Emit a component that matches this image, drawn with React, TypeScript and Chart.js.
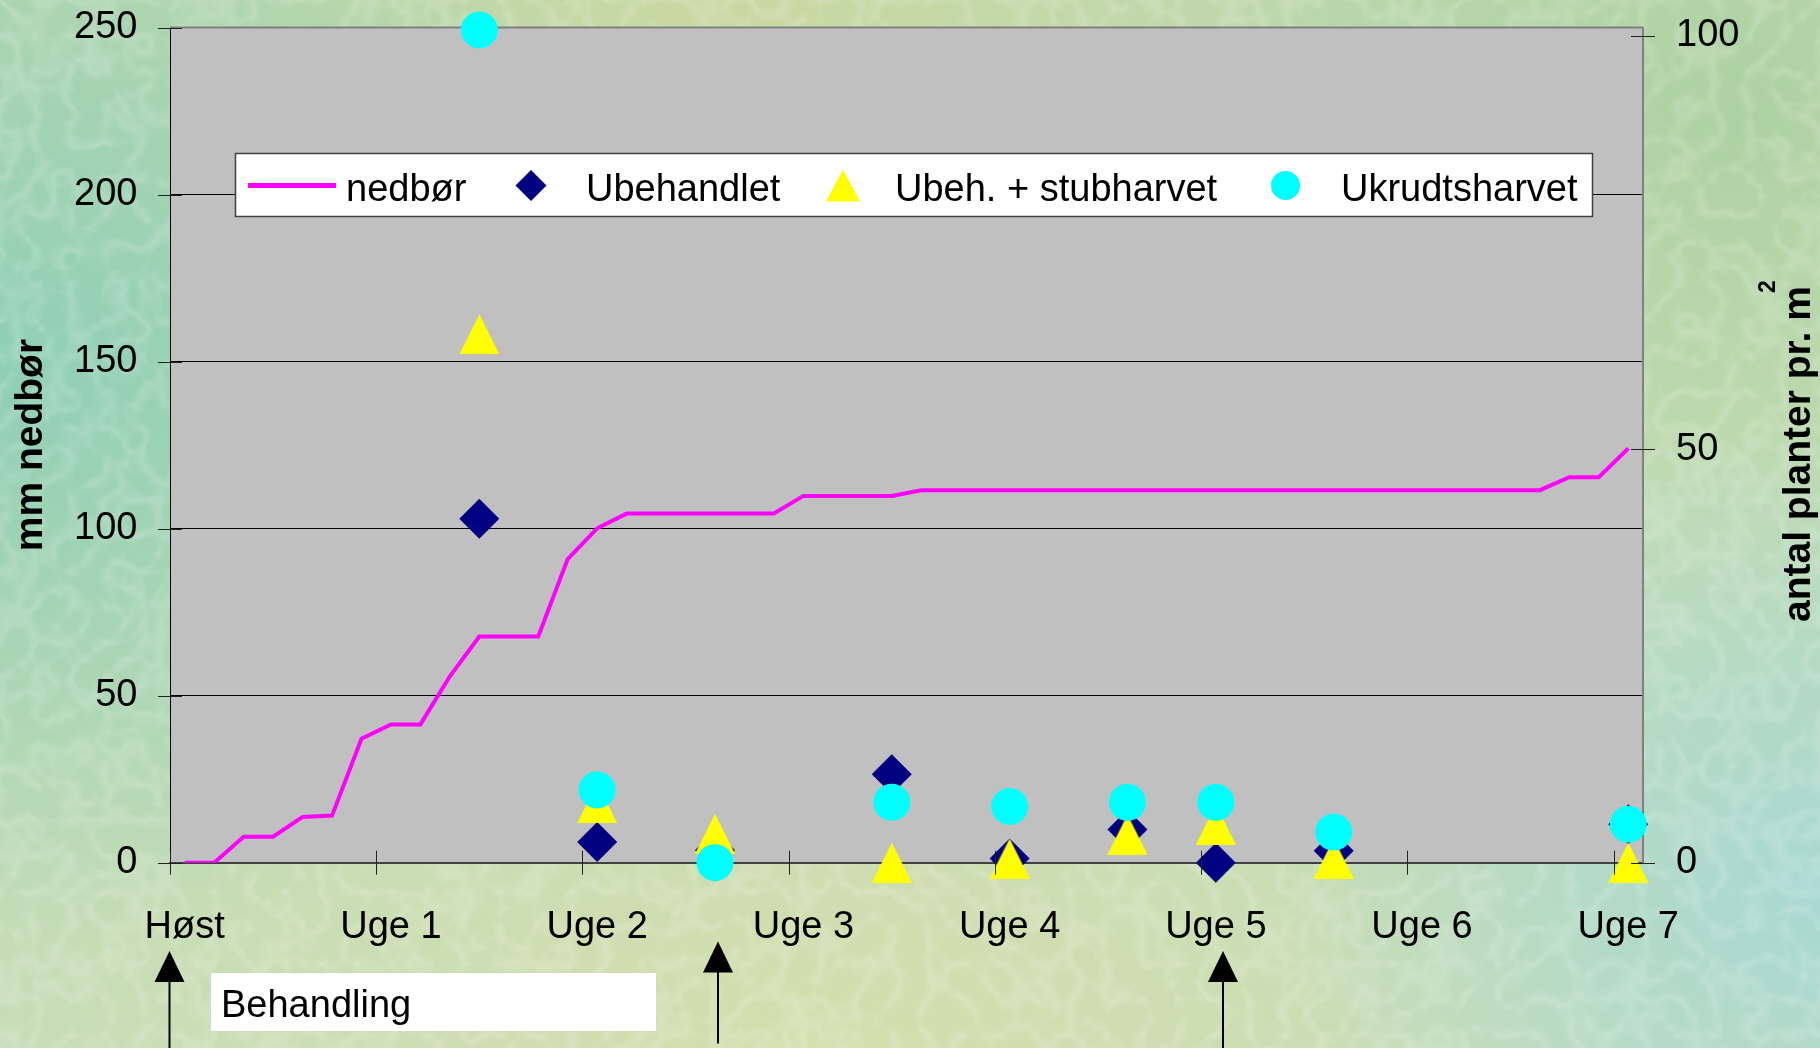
import React, { useEffect, useRef } from "react";
import { Chart, registerables } from "chart.js";

Chart.register(...registerables);

// ---------------- data ----------------
const weekLabels = ["Høst", "Uge 1", "Uge 2", "Uge 3", "Uge 4", "Uge 5", "Uge 6", "Uge 7"];
const dayCategories = [
  "0", "1", "2", "3", "4", "5", "6", "7", "8", "9",
  "10", "11", "12", "13", "14", "15", "16", "17", "18", "19",
  "20", "21", "22", "23", "24", "25", "26", "27", "28", "29",
  "30", "31", "32", "33", "34", "35", "36", "37", "38", "39",
  "40", "41", "42", "43", "44", "45", "46", "47", "48", "49",
];
// cumulative precipitation (mm), one value per day
const nedborValues = [
  0, 0, 7.8, 7.8, 13.7, 14.1, 37.1, 41.4, 41.4, 55.8,
  67.7, 67.7, 67.7, 90.9, 100.1, 104.5, 104.5, 104.5, 104.5, 104.5,
  104.5, 109.8, 109.8, 109.8, 109.8, 111.5, 111.5, 111.5, 111.5, 111.5,
  111.5, 111.5, 111.5, 111.5, 111.5, 111.5, 111.5, 111.5, 111.5, 111.5,
  111.5, 111.5, 111.5, 111.5, 111.5, 111.5, 111.5, 115.4, 115.4, 124,
];
// days on which plants were counted
const countDays = [10, 14, 18, 24, 28, 32, 35, 39, 49];
const ubehandletValues = [41.6, 2.5, 1.5, 10.7, 0.5, 4.0, 0, 1.45, 4.65];
const stubharvetValues = [63.9, 7.2, 3.5, 0, 0.5, 3.4, 4.6, 0.5, 0];
const ukrudtsharvetValues = [100.7, 8.8, 0, 7.3, 6.8, 7.3, 7.3, 3.7, 4.65];

const leftTicks = [0, 50, 100, 150, 200, 250];
const rightTicks = [0, 50, 100];

const seriesNames = ["nedbør", "Ubehandlet", "Ubeh. + stubharvet", "Ukrudtsharvet"];

// ---------------- helpers ----------------
const FONT = '"Liberation Sans", Arial, Helvetica, sans-serif';
const MAGENTA = "#FF00FF";
const NAVY = "#000080";
const YELLOW = "#FFFF00";
const CYAN = "#00FFFF";

function toDaySeries(days: number[], values: number[]) {
  const out: (number | null)[] = dayCategories.map(() => null);
  days.forEach((d, k) => {
    out[d] = values[k];
  });
  return out;
}

function makeTriangle(w: number, h: number, color: string) {
  const c = document.createElement("canvas");
  c.width = w;
  c.height = h;
  const g = c.getContext("2d")!;
  g.fillStyle = color;
  g.beginPath();
  g.moveTo(w / 2, 0);
  g.lineTo(w, h);
  g.lineTo(0, h);
  g.closePath();
  g.fill();
  return c;
}

// ---------------- plugins ----------------
const plotFramePlugin = {
  id: "plotFrame",
  beforeDraw(chart: any) {
    const { ctx, chartArea: a } = chart;
    ctx.save();
    ctx.fillStyle = "#C0C0C0";
    ctx.fillRect(a.left, a.top, a.right - a.left, a.bottom - a.top);
    ctx.restore();
  },
  beforeDatasetsDraw(chart: any) {
    const { ctx, chartArea: a } = chart;
    ctx.save();
    ctx.strokeStyle = "#808080";
    ctx.lineWidth = 2;
    ctx.beginPath();
    ctx.moveTo(a.left, a.top);
    ctx.lineTo(a.right, a.top);
    ctx.stroke();
    ctx.restore();
  },
  afterDatasetsDraw(chart: any) {
    const { ctx, chartArea: a, scales } = chart;
    ctx.save();
    ctx.strokeStyle = "#222";
    ctx.lineWidth = 1;
    const x = scales.x;
    const half = (x.getPixelForValue(1) - x.getPixelForValue(0)) / 2;
    ctx.beginPath();
    for (let i = 0; i < dayCategories.length; i += 7) {
      const px = Math.round(x.getPixelForValue(i) - half) + 0.5;
      ctx.moveTo(px, a.bottom - 12);
      ctx.lineTo(px, a.bottom + 12);
    }
    leftTicks.forEach((v) => {
      const py = Math.round(scales.y.getPixelForValue(v)) + 0.5;
      ctx.moveTo(a.left - 12, py);
      ctx.lineTo(a.left + 12, py);
    });
    rightTicks.forEach((v) => {
      const py = Math.round(scales.y1.getPixelForValue(v)) + 0.5;
      ctx.moveTo(a.right - 12, py);
      ctx.lineTo(a.right + 12, py);
    });
    ctx.stroke();
    ctx.restore();
  },
};

const legendPlugin = {
  id: "customLegend",
  afterDraw(chart: any) {
    const { ctx } = chart;
    const ds = chart.data.datasets;
    ctx.save();
    ctx.fillStyle = "#FFFFFF";
    ctx.fillRect(235, 153, 1358, 64);
    ctx.strokeStyle = "#404040";
    ctx.lineWidth = 1.5;
    ctx.strokeRect(235.5, 153.5, 1357, 63);
    const cy = 185.5;
    ctx.font = `38px ${FONT}`;
    ctx.fillStyle = "#000";
    ctx.textBaseline = "alphabetic";
    ctx.textAlign = "left";
    // line sample
    const lineDs = ds.find((d: any) => d.label === seriesNames[0]);
    ctx.strokeStyle = lineDs.borderColor;
    ctx.lineWidth = 5;
    ctx.beginPath();
    ctx.moveTo(248, cy);
    ctx.lineTo(336, cy);
    ctx.stroke();
    ctx.fillText(seriesNames[0], 346, 201);
    // diamond
    const dDs = ds.find((d: any) => d.label === seriesNames[1]);
    ctx.fillStyle = dDs.pointBackgroundColor;
    ctx.beginPath();
    ctx.moveTo(531, cy - 15.5);
    ctx.lineTo(546.5, cy);
    ctx.lineTo(531, cy + 15.5);
    ctx.lineTo(515.5, cy);
    ctx.closePath();
    ctx.fill();
    ctx.fillStyle = "#000";
    ctx.fillText(seriesNames[1], 586, 201);
    // triangle
    const tDs = ds.find((d: any) => d.label === seriesNames[2]);
    ctx.fillStyle = tDs.pointBackgroundColor;
    ctx.beginPath();
    ctx.moveTo(843, cy - 16);
    ctx.lineTo(860, cy + 16);
    ctx.lineTo(826, cy + 16);
    ctx.closePath();
    ctx.fill();
    ctx.fillStyle = "#000";
    ctx.fillText(seriesNames[2], 895, 201);
    // circle
    const cDs = ds.find((d: any) => d.label === seriesNames[3]);
    ctx.fillStyle = cDs.pointBackgroundColor;
    ctx.beginPath();
    ctx.ellipse(1285.5, cy, 14.5, 14.5, 0, 0, Math.PI * 2);
    ctx.fill();
    ctx.fillStyle = "#000";
    ctx.fillText(seriesNames[3], 1341, 201);
    ctx.restore();
  },
};

const annotationPlugin = {
  id: "annotations",
  afterDraw(chart: any) {
    const { ctx } = chart;
    ctx.save();
    // right axis title, reading upwards
    ctx.fillStyle = "#000";
    ctx.translate(1810, 622);
    ctx.rotate(-Math.PI / 2);
    ctx.font = `bold 39px ${FONT}`;
    ctx.textAlign = "left";
    ctx.textBaseline = "alphabetic";
    const main = "antal planter pr. m";
    ctx.fillText(main, 0, 0);
    const w = ctx.measureText(main).width;
    ctx.font = `bold 23px ${FONT}`;
    ctx.fillText("2", w - 7, -35);
    ctx.restore();

    ctx.save();
    // Behandling box
    ctx.fillStyle = "#FFFFFF";
    ctx.fillRect(211, 973, 445, 58);
    ctx.fillStyle = "#000";
    ctx.font = `38px ${FONT}`;
    ctx.textAlign = "left";
    ctx.textBaseline = "alphabetic";
    ctx.fillText("Behandling", 221, 1016.5);
    // arrows
    const arrows = [
      { x: 169.5, tip: 951, end: 1048 },
      { x: 718, tip: 941.5, end: 1043.5 },
      { x: 1223, tip: 951, end: 1048 },
    ];
    arrows.forEach((ar) => {
      ctx.strokeStyle = "#000";
      ctx.lineWidth = 2;
      ctx.beginPath();
      ctx.moveTo(ar.x, ar.tip + 20);
      ctx.lineTo(ar.x, ar.end);
      ctx.stroke();
      ctx.beginPath();
      ctx.moveTo(ar.x, ar.tip);
      ctx.lineTo(ar.x + 15, ar.tip + 31);
      ctx.lineTo(ar.x - 15, ar.tip + 31);
      ctx.closePath();
      ctx.fill();
    });
    ctx.restore();
  },
};

// ---------------- component ----------------
export default function App() {
  const canvasRef = useRef<HTMLCanvasElement | null>(null);

  useEffect(() => {
    const canvas = canvasRef.current;
    if (!canvas) return;
    const triangle = makeTriangle(40, 40, YELLOW);

    const chart = new Chart(canvas, {
      type: "line",
      data: {
        labels: dayCategories,
        datasets: [
          {
            label: seriesNames[3],
            data: toDaySeries(countDays, ukrudtsharvetValues),
            yAxisID: "y1",
            showLine: false,
            pointStyle: "circle",
            pointRadius: 18.5,
            pointBackgroundColor: CYAN,
            pointBorderWidth: 0,
            borderColor: CYAN,
            backgroundColor: CYAN,
            clip: false,
            order: 1,
          },
          {
            label: seriesNames[2],
            data: toDaySeries(countDays, stubharvetValues),
            yAxisID: "y1",
            showLine: false,
            pointStyle: triangle,
            pointRadius: 20,
            pointBackgroundColor: YELLOW,
            pointBorderWidth: 0,
            borderColor: YELLOW,
            backgroundColor: YELLOW,
            clip: false,
            order: 2,
          },
          {
            label: seriesNames[1],
            data: toDaySeries(countDays, ubehandletValues),
            yAxisID: "y1",
            showLine: false,
            pointStyle: "rectRot",
            pointRadius: 20,
            pointBackgroundColor: NAVY,
            pointBorderWidth: 0,
            borderColor: NAVY,
            backgroundColor: NAVY,
            clip: false,
            order: 3,
          },
          {
            label: seriesNames[0],
            data: nedborValues,
            yAxisID: "y",
            borderColor: MAGENTA,
            backgroundColor: MAGENTA,
            borderWidth: 4,
            pointRadius: 0,
            tension: 0,
            fill: false,
            order: 4,
          },
        ],
      },
      options: {
        animation: false,
        responsive: false,
        maintainAspectRatio: false,
        devicePixelRatio: 1,
        layout: { padding: { top: 27.5, left: 0, right: 0, bottom: 0 } },
        plugins: {
          legend: { display: false },
          tooltip: { enabled: false },
        },
        scales: {
          x: {
            type: "category",
            offset: true,
            grid: { display: false, offset: true, drawTicks: false },
            border: { display: true, color: "#404040", width: 2 },
            ticks: {
              autoSkip: false,
              maxRotation: 0,
              minRotation: 0,
              padding: 42,
              color: "#000",
              font: { family: FONT, size: 38 },
              callback: (_v: any, i: number) => (i % 7 === 0 ? weekLabels[i / 7] : ""),
            },
            afterFit: (s: any) => {
              s.height = 1048 - 862.7;
              s.paddingLeft = 0;
              s.paddingRight = 0;
            },
          },
          y: {
            type: "linear",
            position: "left",
            min: 0,
            max: 250,
            afterBuildTicks: (s: any) => {
              s.ticks = leftTicks.map((v) => ({ value: v }));
            },
            grid: {
              drawTicks: false,
              lineWidth: 1,
              color: (c: any) =>
                c.tick && (c.tick.value === 0 || c.tick.value === 250) ? "rgba(0,0,0,0)" : "#000",
            },
            border: { display: true, color: "#000", width: 1 },
            ticks: {
              padding: 32.5,
              color: "#000",
              font: { family: FONT, size: 38 },
            },
            title: {
              display: true,
              text: "mm nedbør",
              color: "#000",
              font: { family: FONT, size: 39, weight: "bold" },
              padding: { top: 8, bottom: 0 },
            },
            afterFit: (s: any) => {
              s.width = 170;
              s.paddingTop = 0;
              s.paddingBottom = 0;
            },
          },
          y1: {
            type: "linear",
            position: "right",
            min: 0,
            max: 101,
            afterBuildTicks: (s: any) => {
              s.ticks = rightTicks.map((v) => ({ value: v }));
            },
            grid: { display: false, drawTicks: false },
            border: { display: true, color: "#808080", width: 2 },
            ticks: {
              padding: 33,
              color: "#000",
              font: { family: FONT, size: 38 },
            },
            afterFit: (s: any) => {
              s.width = 1820 - 1643;
              s.paddingTop = 0;
              s.paddingBottom = 0;
            },
          },
        },
      } as any,
      plugins: [plotFramePlugin, legendPlugin, annotationPlugin],
    });

    return () => {
      chart.destroy();
    };
  }, []);

  const background = [
    "radial-gradient(ellipse 40% 55% at 0% 35%, rgba(140,206,182,0.95), rgba(140,206,182,0) 100%)",
    "radial-gradient(ellipse 30% 45% at 100% 85%, rgba(165,216,214,0.9), rgba(165,216,214,0) 100%)",
    "radial-gradient(ellipse 45% 40% at 45% 100%, rgba(214,222,172,0.9), rgba(214,222,172,0) 100%)",
    "radial-gradient(ellipse 35% 35% at 40% 0%, rgba(202,216,160,0.9), rgba(202,216,160,0) 100%)",
    "radial-gradient(ellipse 30% 40% at 95% 10%, rgba(170,208,160,0.8), rgba(170,208,160,0) 100%)",
    "linear-gradient(180deg, #bcd8ae 0%, #c2dbb2 50%, #c6ddb8 100%)",
  ].join(", ");

  const texture =
    "url(\"data:image/svg+xml;utf8," +
    encodeURIComponent(
      "<svg xmlns='http://www.w3.org/2000/svg' width='1820' height='1048'>" +
        "<filter id='n'><feTurbulence type='turbulence' baseFrequency='0.028' numOctaves='2' seed='7'/>" +
        "<feColorMatrix values='0 0 0 0 1  0 0 0 0 1  0 0 0 0 1  0 0 0 -3 1.0'/></filter>" +
        "<rect width='100%' height='100%' filter='url(#n)' opacity='0.18'/></svg>"
    ) +
    "\")";

  return (
    <div
      style={{
        position: "absolute",
        left: 0,
        top: 0,
        width: 1820,
        height: 1048,
        overflow: "hidden",
        background,
      }}
    >
      <div
        style={{
          position: "absolute",
          left: 0,
          top: 0,
          width: 1820,
          height: 1048,
          backgroundImage: texture,
        }}
      />
      <canvas
        ref={canvasRef}
        width={1820}
        height={1048}
        style={{ position: "absolute", left: 0, top: 0, display: "block", width: 1820, height: 1048 }}
      />
    </div>
  );
}
